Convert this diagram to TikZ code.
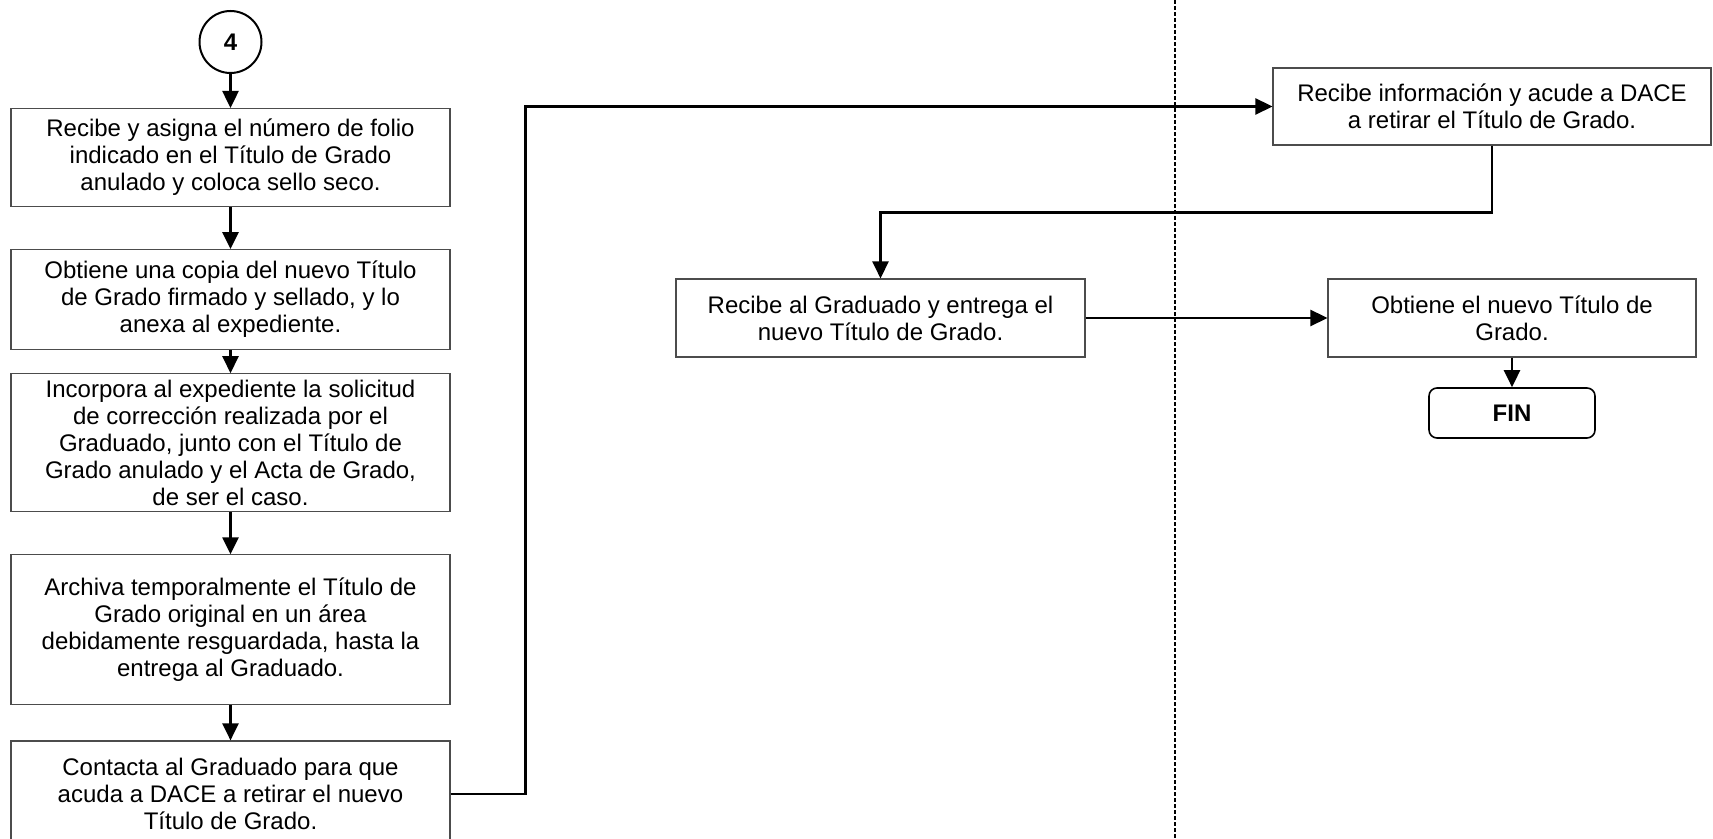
\documentclass[tikz,border=0pt]{standalone}
\usepackage{fontspec}
\setmainfont{Liberation Sans}
\usetikzlibrary{positioning,arrows.meta}

\begin{document}
\begin{tikzpicture}[
  x=0.5pt, y=-0.5pt,
  font=\fontsize{12pt}{13.5pt}\selectfont,
  tarea/.style={
    rectangle, draw=black!70, line width=0.55pt, fill=white,
    minimum width=219.5pt, align=center, inner sep=3pt
  },
  enlace/.style={
    circle, draw=black, line width=1pt, minimum size=31pt, inner sep=0pt,
    font=\fontsize{12pt}{13.5pt}\selectfont\bfseries
  },
  term/.style={
    rectangle, rounded corners=4pt, draw=black, line width=0.8pt,
    minimum width=83pt, minimum height=25pt,
    font=\fontsize{12pt}{13.5pt}\selectfont\bfseries
  },
  arr/.style={-{Triangle[length=8.5pt,width=8pt]}, line width=1.25pt, black},
  carril/.style={draw=black, line width=0.6pt, dash pattern=on 2pt off 1pt}
]
\useasboundingbox (0,0) rectangle (1713,839);

% --- lane divider ---
\draw[carril] (1175,0) -- (1175,839);

% --- left lane ---
\node[enlace] (c4) at (230.5,42) {4};
\node[tarea, minimum height=49pt, below=17pt of c4] (b1)
  {Recibe y asigna el número de folio\\indicado en el Título de Grado\\anulado y coloca sello seco.};
\node[tarea, minimum height=50pt, below=21pt of b1] (b2)
  {Obtiene una copia del nuevo Título\\de Grado firmado y sellado, y lo\\anexa al expediente.};
\node[tarea, minimum height=69pt, below=11.5pt of b2] (b3)
  {Incorpora al expediente la solicitud\\de corrección realizada por el\\Graduado, junto con el Título de\\Grado anulado y el Acta de Grado,\\de ser el caso.};
\node[tarea, minimum height=75pt, below=21pt of b3] (b4)
  {Archiva temporalmente el Título de\\Grado original en un área\\debidamente resguardada, hasta la\\entrega al Graduado.};
\node[tarea, minimum height=53pt, below=17.5pt of b4] (b5)
  {Contacta al Graduado para que\\acuda a DACE a retirar el nuevo\\Título de Grado.};

% --- middle and right lanes ---
\node[tarea, minimum width=219pt, minimum height=38.5pt] (r1) at (1492,106.5)
  {Recibe información y acude a DACE\\a retirar el Título de Grado.};
\node[tarea, minimum width=204.5pt, minimum height=39pt] (m1) at (880.5,318)
  {Recibe al Graduado y entrega el\\nuevo Título de Grado.};
\node[tarea, minimum width=184pt, minimum height=39pt] (r2) at (1512,318)
  {Obtiene el nuevo Título de\\Grado.};
\node[term] (fin) at (1512,413) {FIN};

% --- connectors ---
\foreach \from/\to in {c4/b1, b1/b2, b2/b3, b3/b4, b4/b5}
  \draw[arr] (\from) -- (\to);
\draw[arr] (b5.east) -- ++(75,0) |- (r1.west);
\draw[arr] (r1.south) -- ++(0,67) -| (m1.north);
\draw[arr] (m1.east) -- (r2.west);
\draw[arr] (r2.south) -- (fin.north);

\end{tikzpicture}
\end{document}
